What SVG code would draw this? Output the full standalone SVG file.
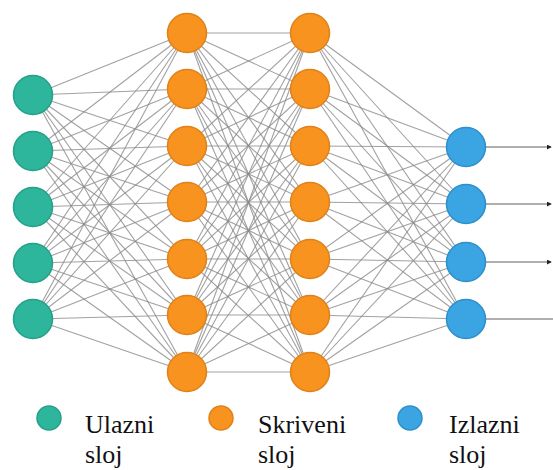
<svg xmlns="http://www.w3.org/2000/svg" width="553" height="470" viewBox="0 0 553 470">
<style>
.c{stroke:#8a8a8a;stroke-opacity:.8;stroke-width:1.1;fill:none}
.o{stroke:#606060;stroke-width:1.2;fill:none}
.in{fill:#2db69b;stroke:#24a088;stroke-width:1.5}
.hd{fill:#f7931e;stroke:#e0811a;stroke-width:1.5}
.ou{fill:#3aa5e2;stroke:#2d8fcb;stroke-width:1.5}
.t{font-family:"Liberation Serif","Times New Roman",serif;font-size:26px;fill:#111}
</style>
<defs>
<marker id="ah" viewBox="0 0 6 6" refX="5" refY="3" markerWidth="5" markerHeight="5" orient="auto" markerUnits="userSpaceOnUse">
<path d="M0 0L6 3L0 6z" fill="#222"/>
</marker>
</defs>
<rect width="553" height="470" fill="#fff"/>
<g id="connectors">
<g id="in-h1">
<path class="c" d="M33 95L187 33"/><path class="c" d="M33 95L187 89"/><path class="c" d="M33 95L187 146"/><path class="c" d="M33 95L187 202"/><path class="c" d="M33 95L187 259"/><path class="c" d="M33 95L187 315"/><path class="c" d="M33 95L187 372"/>
<path class="c" d="M33 151L187 33"/><path class="c" d="M33 151L187 89"/><path class="c" d="M33 151L187 146"/><path class="c" d="M33 151L187 202"/><path class="c" d="M33 151L187 259"/><path class="c" d="M33 151L187 315"/><path class="c" d="M33 151L187 372"/>
<path class="c" d="M33 207L187 33"/><path class="c" d="M33 207L187 89"/><path class="c" d="M33 207L187 146"/><path class="c" d="M33 207L187 202"/><path class="c" d="M33 207L187 259"/><path class="c" d="M33 207L187 315"/><path class="c" d="M33 207L187 372"/>
<path class="c" d="M33 263L187 33"/><path class="c" d="M33 263L187 89"/><path class="c" d="M33 263L187 146"/><path class="c" d="M33 263L187 202"/><path class="c" d="M33 263L187 259"/><path class="c" d="M33 263L187 315"/><path class="c" d="M33 263L187 372"/>
<path class="c" d="M33 319L187 33"/><path class="c" d="M33 319L187 89"/><path class="c" d="M33 319L187 146"/><path class="c" d="M33 319L187 202"/><path class="c" d="M33 319L187 259"/><path class="c" d="M33 319L187 315"/><path class="c" d="M33 319L187 372"/>
</g>
<g id="h1-h2">
<path class="c" d="M187 33L310 33"/><path class="c" d="M187 33L310 89"/><path class="c" d="M187 33L310 146"/><path class="c" d="M187 33L310 202"/><path class="c" d="M187 33L310 259"/><path class="c" d="M187 33L310 315"/><path class="c" d="M187 33L310 372"/>
<path class="c" d="M187 89L310 33"/><path class="c" d="M187 89L310 89"/><path class="c" d="M187 89L310 146"/><path class="c" d="M187 89L310 202"/><path class="c" d="M187 89L310 259"/><path class="c" d="M187 89L310 315"/><path class="c" d="M187 89L310 372"/>
<path class="c" d="M187 146L310 33"/><path class="c" d="M187 146L310 89"/><path class="c" d="M187 146L310 146"/><path class="c" d="M187 146L310 202"/><path class="c" d="M187 146L310 259"/><path class="c" d="M187 146L310 315"/><path class="c" d="M187 146L310 372"/>
<path class="c" d="M187 202L310 33"/><path class="c" d="M187 202L310 89"/><path class="c" d="M187 202L310 146"/><path class="c" d="M187 202L310 202"/><path class="c" d="M187 202L310 259"/><path class="c" d="M187 202L310 315"/><path class="c" d="M187 202L310 372"/>
<path class="c" d="M187 259L310 33"/><path class="c" d="M187 259L310 89"/><path class="c" d="M187 259L310 146"/><path class="c" d="M187 259L310 202"/><path class="c" d="M187 259L310 259"/><path class="c" d="M187 259L310 315"/><path class="c" d="M187 259L310 372"/>
<path class="c" d="M187 315L310 33"/><path class="c" d="M187 315L310 89"/><path class="c" d="M187 315L310 146"/><path class="c" d="M187 315L310 202"/><path class="c" d="M187 315L310 259"/><path class="c" d="M187 315L310 315"/><path class="c" d="M187 315L310 372"/>
<path class="c" d="M187 372L310 33"/><path class="c" d="M187 372L310 89"/><path class="c" d="M187 372L310 146"/><path class="c" d="M187 372L310 202"/><path class="c" d="M187 372L310 259"/><path class="c" d="M187 372L310 315"/><path class="c" d="M187 372L310 372"/>
</g>
<g id="h2-out">
<path class="c" d="M310 33L466 147"/><path class="c" d="M310 33L466 204"/><path class="c" d="M310 33L466 262"/><path class="c" d="M310 33L466 319"/>
<path class="c" d="M310 89L466 147"/><path class="c" d="M310 89L466 204"/><path class="c" d="M310 89L466 262"/><path class="c" d="M310 89L466 319"/>
<path class="c" d="M310 146L466 147"/><path class="c" d="M310 146L466 204"/><path class="c" d="M310 146L466 262"/><path class="c" d="M310 146L466 319"/>
<path class="c" d="M310 202L466 147"/><path class="c" d="M310 202L466 204"/><path class="c" d="M310 202L466 262"/><path class="c" d="M310 202L466 319"/>
<path class="c" d="M310 259L466 147"/><path class="c" d="M310 259L466 204"/><path class="c" d="M310 259L466 262"/><path class="c" d="M310 259L466 319"/>
<path class="c" d="M310 315L466 147"/><path class="c" d="M310 315L466 204"/><path class="c" d="M310 315L466 262"/><path class="c" d="M310 315L466 319"/>
<path class="c" d="M310 372L466 147"/><path class="c" d="M310 372L466 204"/><path class="c" d="M310 372L466 262"/><path class="c" d="M310 372L466 319"/>
</g>
<g id="outputs">
<path class="o" d="M485 147H551" marker-end="url(#ah)"/>
<path class="o" d="M485 204H551" marker-end="url(#ah)"/>
<path class="o" d="M485 262H551" marker-end="url(#ah)"/>
<path class="o" d="M485 319H553"/>
</g>
</g>
<g id="input-layer">
<g id="in1"><circle class="in" cx="33" cy="95" r="19.5"/></g>
<g id="in2"><circle class="in" cx="33" cy="151" r="19.5"/></g>
<g id="in3"><circle class="in" cx="33" cy="207" r="19.5"/></g>
<g id="in4"><circle class="in" cx="33" cy="263" r="19.5"/></g>
<g id="in5"><circle class="in" cx="33" cy="319" r="19.5"/></g>
</g>
<g id="hidden-layer-1">
<g id="h1n1"><circle class="hd" cx="187" cy="33" r="19.5"/></g>
<g id="h1n2"><circle class="hd" cx="187" cy="89" r="19.5"/></g>
<g id="h1n3"><circle class="hd" cx="187" cy="146" r="19.5"/></g>
<g id="h1n4"><circle class="hd" cx="187" cy="202" r="19.5"/></g>
<g id="h1n5"><circle class="hd" cx="187" cy="259" r="19.5"/></g>
<g id="h1n6"><circle class="hd" cx="187" cy="315" r="19.5"/></g>
<g id="h1n7"><circle class="hd" cx="187" cy="372" r="19.5"/></g>
</g>
<g id="hidden-layer-2">
<g id="h2n1"><circle class="hd" cx="310" cy="33" r="19.5"/></g>
<g id="h2n2"><circle class="hd" cx="310" cy="89" r="19.5"/></g>
<g id="h2n3"><circle class="hd" cx="310" cy="146" r="19.5"/></g>
<g id="h2n4"><circle class="hd" cx="310" cy="202" r="19.5"/></g>
<g id="h2n5"><circle class="hd" cx="310" cy="259" r="19.5"/></g>
<g id="h2n6"><circle class="hd" cx="310" cy="315" r="19.5"/></g>
<g id="h2n7"><circle class="hd" cx="310" cy="372" r="19.5"/></g>
</g>
<g id="output-layer">
<g id="out1"><circle class="ou" cx="466" cy="147" r="19.5"/></g>
<g id="out2"><circle class="ou" cx="466" cy="204" r="19.5"/></g>
<g id="out3"><circle class="ou" cx="466" cy="262" r="19.5"/></g>
<g id="out4"><circle class="ou" cx="466" cy="319" r="19.5"/></g>
</g>
<g id="legend">
<g id="legend-input"><circle class="in" cx="49" cy="418" r="12"/><text class="t" x="85" y="433">Ulazni</text><text class="t" x="85" y="463">sloj</text></g>
<g id="legend-hidden"><circle class="hd" cx="221" cy="418" r="12"/><text class="t" x="258" y="433">Skriveni</text><text class="t" x="258" y="463">sloj</text></g>
<g id="legend-output"><circle class="ou" cx="410" cy="418" r="12"/><text class="t" x="449" y="433">Izlazni</text><text class="t" x="449" y="463">sloj</text></g>
</g>
</svg>
